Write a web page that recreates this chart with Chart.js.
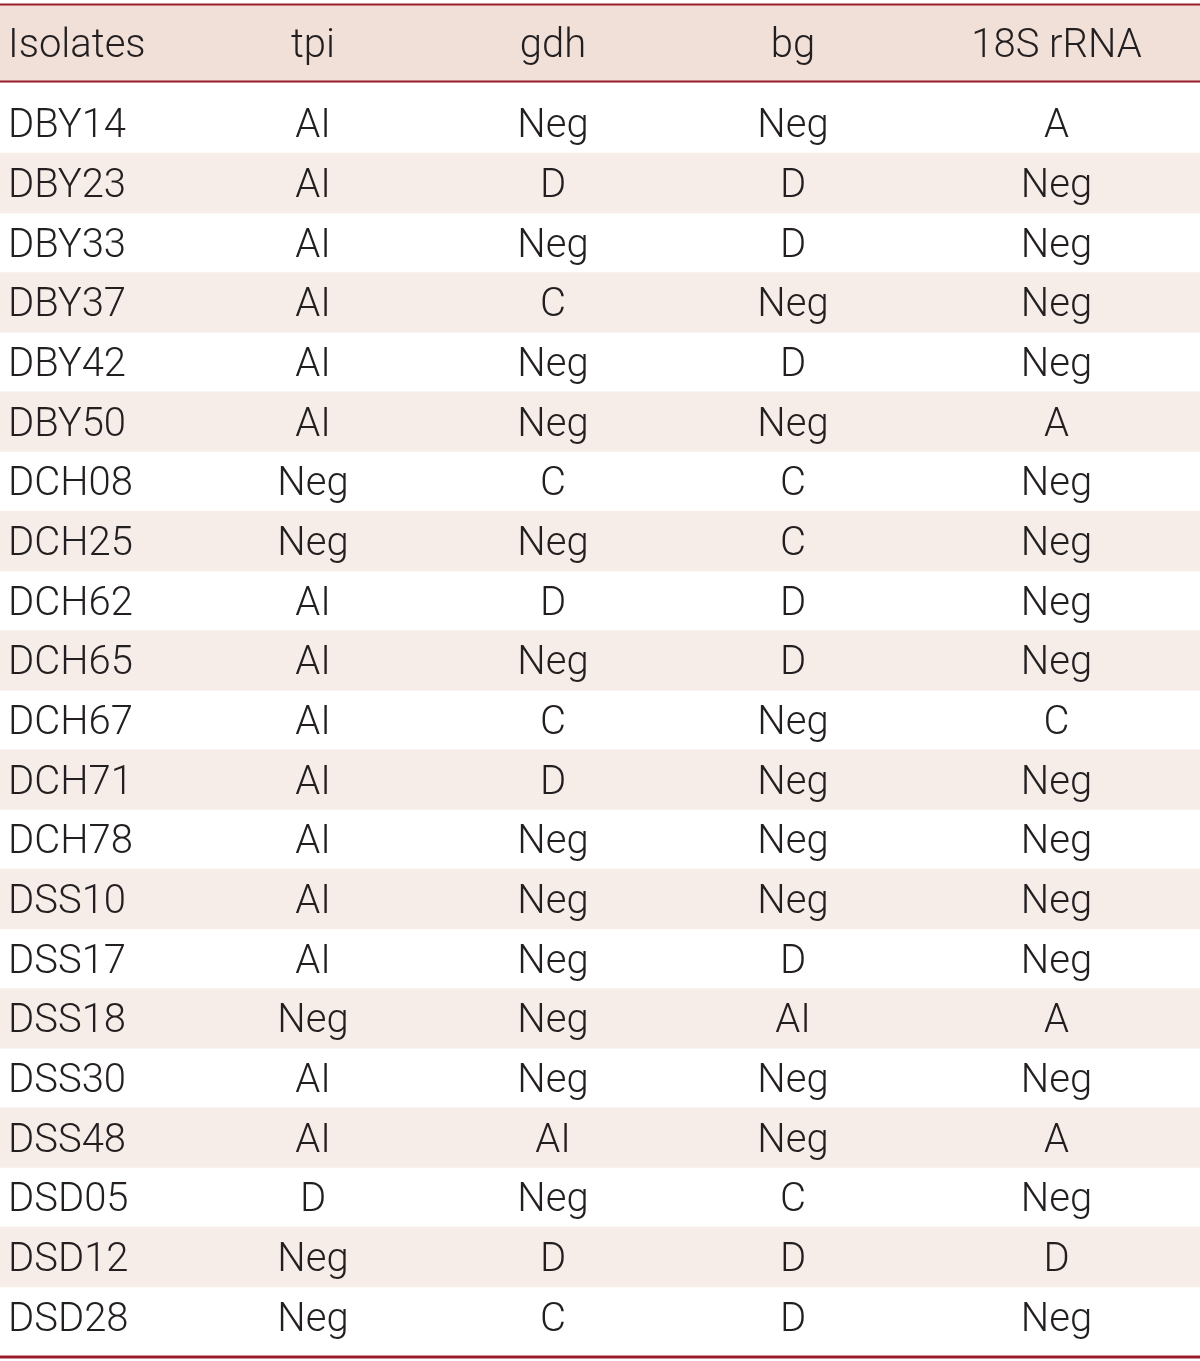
<!DOCTYPE html>
<html>
<head>
<meta charset="utf-8">
<script src="https://cdn.jsdelivr.net/npm/chart.js@4/dist/chart.umd.min.js"></script>
<style>
  html, body { margin: 0; padding: 0; background: #fff; }
  #wrap { width: 1200px; height: 1361px; position: relative; }
</style>
</head>
<body>
<div id="wrap"><canvas id="table-chart"></canvas></div>
<script>
// Dados da tabela
const headers = ["Isolates", "tpi", "gdh", "bg", "18S rRNA"]
const isolates = ["DBY14", "DBY23", "DBY33", "DBY37", "DBY42", "DBY50", "DCH08", "DCH25", "DCH62", "DCH65", "DCH67",
  "DCH71", "DCH78", "DSS10", "DSS17", "DSS18", "DSS30", "DSS48", "DSD05", "DSD12", "DSD28"]
const tpi = ["AI", "AI", "AI", "AI", "AI", "AI", "Neg", "Neg", "AI", "AI", "AI",
  "AI", "AI", "AI", "AI", "Neg", "AI", "AI", "D", "Neg", "Neg"]
const gdh = ["Neg", "D", "Neg", "C", "Neg", "Neg", "C", "Neg", "D", "Neg", "C",
  "D", "Neg", "Neg", "Neg", "Neg", "Neg", "AI", "Neg", "D", "C"]
const bg = ["Neg", "D", "D", "Neg", "D", "Neg", "C", "C", "D", "D", "Neg",
  "Neg", "Neg", "Neg", "D", "AI", "Neg", "Neg", "C", "D", "D"]
const rrna18s = ["A", "Neg", "Neg", "Neg", "Neg", "A", "Neg", "Neg", "Neg", "Neg", "C",
  "Neg", "Neg", "Neg", "Neg", "A", "Neg", "A", "Neg", "D", "Neg"]

// Layout das colunas (limites em unidades do eixo x)
const columnEdges = [0, 193, 433, 673, 913, 1200]
const columns = [isolates, tpi, gdh, bg, rrna18s]

const COLORS = {
  text: "#231f20",
  rule: "#9a1c2b",
  header: "#f0e0d8",
  stripe: "#f6ede9",
}
const FONT = "300 40px Roboto"

// Faixas alternadas: linhas ímpares recebem fundo
const stripes = isolates.map((_, i) => (i % 2 === 1 ? [0, 1200] : null))

const tablePlugin = {
  id: "tableText",
  beforeDatasetsDraw(chart) {
    const { ctx, chartArea } = chart
    ctx.save()
    // Cabeçalho
    const top = chartArea.top - 90
    ctx.fillStyle = COLORS.header
    ctx.fillRect(0, top + 1, chart.width, 78)
    ctx.fillStyle = COLORS.rule
    ctx.fillRect(0, top, chart.width, 2)
    ctx.fillRect(0, top + 77, chart.width, 2)
    // Linha inferior
    ctx.fillRect(0, chartArea.bottom + 9, chart.width, 3)
    ctx.restore()
  },
  afterDatasetsDraw(chart) {
    const { ctx, chartArea, scales } = chart
    const x = scales.x
    const y = scales.y
    ctx.save()
    ctx.font = FONT
    ctx.fillStyle = COLORS.text
    ctx.textBaseline = "alphabetic"

    const headerBase = chartArea.top - 37
    headers.forEach((h, c) => {
      if (c === 0) {
        ctx.textAlign = "left"
        ctx.fillText(h, x.getPixelForValue(columnEdges[0]) + 8, headerBase)
      } else {
        ctx.textAlign = "center"
        ctx.fillText(h, x.getPixelForValue((columnEdges[c] + columnEdges[c + 1]) / 2), headerBase)
      }
    })

    columns.forEach((col, c) => {
      col.forEach((val, i) => {
        const base = y.getPixelForValue(i) + 14
        if (c === 0) {
          ctx.textAlign = "left"
          ctx.fillText(val, x.getPixelForValue(columnEdges[0]) + 8, base)
        } else {
          ctx.textAlign = "center"
          ctx.fillText(val, x.getPixelForValue((columnEdges[c] + columnEdges[c + 1]) / 2), base)
        }
      })
    })
    ctx.restore()
  },
}

const ctx = document.getElementById("table-chart").getContext("2d")
new Chart(ctx, {
  type: "bar",
  data: {
    labels: isolates,
    datasets: [
      {
        data: stripes,
        backgroundColor: COLORS.stripe,
        borderWidth: 0,
        barPercentage: 1,
        categoryPercentage: 1,
      },
    ],
  },
  options: {
    indexAxis: "y",
    responsive: true,
    maintainAspectRatio: false,
    animation: false,
    layout: {
      padding: { top: 93.5, bottom: 14.5, left: 0, right: 0 },
    },
    plugins: {
      legend: { display: false },
      tooltip: { enabled: false },
    },
    scales: {
      x: { type: "linear", min: 0, max: 1200, display: false },
      y: { type: "category", display: false, offset: true },
    },
  },
  plugins: [tablePlugin],
})
</script>
</body>
</html>
